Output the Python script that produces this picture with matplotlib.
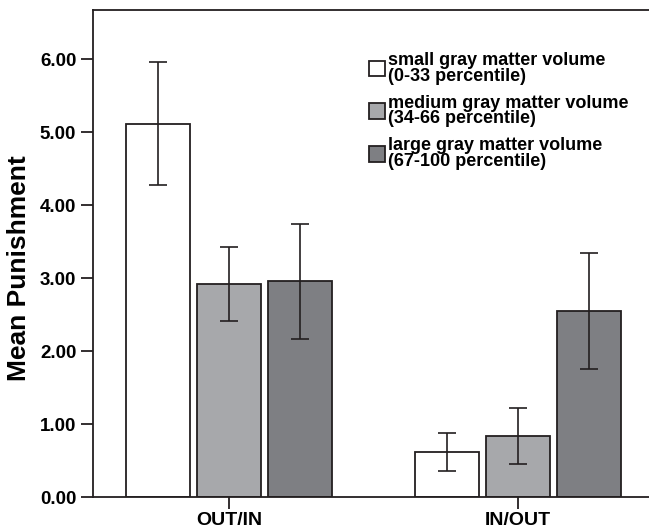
import numpy as np
import matplotlib
matplotlib.use("Agg")
import matplotlib.pyplot as plt

plt.rcParams['font.family'] = ['Liberation Sans', 'DejaVu Sans']

# ==========
# 1. Data
# ==========
groups = ["OUT/IN", "IN/OUT"]
series = ["small gray matter volume\n(0-33 percentile)",
          "medium gray matter volume\n(34-66 percentile)",
          "large gray matter volume\n(67-100 percentile)"]
means_small = [5.11, 0.62]
means_medium = [2.92, 0.84]
means_large = [2.96, 2.55]
err_lo_small = [4.27, 0.36]
err_hi_small = [5.96, 0.88]
err_lo_medium = [2.41, 0.45]
err_hi_medium = [3.42, 1.22]
err_lo_large = [2.16, 1.76]
err_hi_large = [3.74, 3.34]
yticks = [0, 1, 2, 3, 4, 5, 6]

colors = ["#ffffff", "#a7a8ab", "#7e7f83"]
edge = "#231f20"

# ==========
# 2. Plot
# ==========
fig = plt.figure(figsize=(6.49, 5.31), dpi=100)
ax = fig.add_axes([0.1433, 0.064, 0.8567, 0.917])

x = np.arange(len(groups))
width = 0.2215
offset = 0.2457
all_means = [means_small, means_medium, means_large]
all_lo = [err_lo_small, err_lo_medium, err_lo_large]
all_hi = [err_hi_small, err_hi_medium, err_hi_large]
for i, (m, lo, hi) in enumerate(zip(all_means, all_lo, all_hi)):
    m = np.array(m)
    yerr = [m - np.array(lo), np.array(hi) - m]
    ax.bar(x + (i - 1) * offset, m, width=width, color=colors[i],
           edgecolor=edge, linewidth=1.3, label=series[i], zorder=2)
    ax.errorbar(x + (i - 1) * offset, m, yerr=yerr, fmt="none",
                ecolor=edge, elinewidth=1.2, capsize=6.5, capthick=1.2, zorder=3)

# ==========
# 3. Format
# ==========
ax.set_xlim(-0.4706, 1.453)
ax.set_ylim(0, 6.67)
ax.set_xticks(x)
ax.set_xticklabels(groups, fontsize=14, fontweight="bold")
ax.set_yticks(yticks)
ax.set_yticklabels([f"{v:.2f}" for v in yticks], fontsize=13.5, fontweight="bold")
ax.tick_params(axis="y", direction="out", length=8.5, width=1.3, pad=3.5, color=edge)
ax.tick_params(axis="x", direction="out", length=8.5, width=1.3, pad=2, color=edge)
ax.set_ylabel("Mean Punishment", fontsize=19, fontweight="bold")
ax.yaxis.set_label_coords(-0.111, 0.47)
ax.spines["right"].set_visible(False)
for s in ["left", "top", "bottom"]:
    ax.spines[s].set_linewidth(1.3)
    ax.spines[s].set_color(edge)

leg = ax.legend(loc="upper left", bbox_to_anchor=(0.484, 0.929), frameon=False,
                prop={"weight": "bold", "size": 13}, handlelength=0.85,
                handleheight=0.95, handletextpad=0.2, labelspacing=0.55,
                borderaxespad=0)
for t in leg.get_texts():
    t.set_linespacing(0.9)

fig.savefig("out.png", dpi=100)
